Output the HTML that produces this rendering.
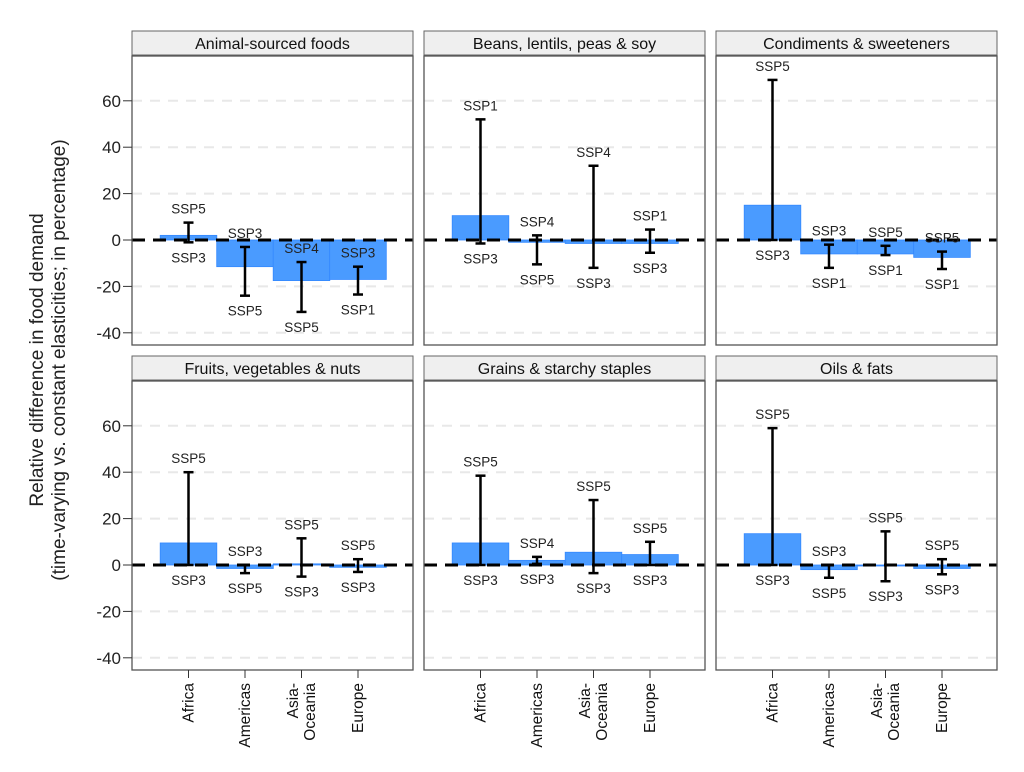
<!DOCTYPE html>
<html><head><meta charset="utf-8"><style>
body{margin:0;background:#fff;}
svg{display:block;font-family:"Liberation Sans",Arial,sans-serif;}
</style></head><body>
<svg id="s" width="1024" height="772" xmlns="http://www.w3.org/2000/svg"></svg>
<script>
const S=document.getElementById('s');let h='';
const cols=[132,424,716],W=281;
const rows=[{st:31,pt:56,pb:345,z:240},{st:356,pt:381,pb:670,z:565}];
const k=2.32;
const panels=[
["Animal-sourced foods",[[2,7.5,-1,"SSP5","SSP3"],[-11.5,-3,-24,"SSP3","SSP5"],[-17.5,-9.5,-31,"SSP4","SSP5"],[-17,-11.5,-23.5,"SSP3","SSP1"]]],
["Beans, lentils, peas & soy",[[10.5,52,-1.5,"SSP1","SSP3"],[-1,2,-10.5,"SSP4","SSP5"],[-1.5,32,-12,"SSP4","SSP3"],[-1.5,4.5,-5.5,"SSP1","SSP3"]]],
["Condiments & sweeteners",[[15,69,0,"SSP5","SSP3"],[-6,-2,-12,"SSP3","SSP1"],[-6,-2.5,-6.5,"SSP5","SSP1"],[-7.5,-5,-12.5,"SSP5","SSP1"]]],
["Fruits, vegetables & nuts",[[9.5,40,0,"SSP5","SSP3"],[-1.5,0,-3.5,"SSP3","SSP5"],[0.5,11.5,-5,"SSP5","SSP3"],[-1,2.5,-3,"SSP5","SSP3"]]],
["Grains & starchy staples",[[9.5,38.5,0,"SSP5","SSP3"],[2,3.5,0.5,"SSP4","SSP3"],[5.5,28,-3.5,"SSP5","SSP3"],[4.5,10,0,"SSP5","SSP3"]]],
["Oils & fats",[[13.5,59,0,"SSP5","SSP3"],[-2,0,-5.5,"SSP3","SSP5"],[0,14.5,-7,"SSP5","SSP3"],[-1.5,2.5,-4,"SSP5","SSP3"]]]];
const cats=[["Africa"],["Americas"],["Asia-","Oceania"],["Europe"]];
panels.forEach((p,i)=>{
 const r=rows[Math.floor(i/3)],x0=cols[i%3];const Y=v=>r.z-k*v;
 h+=`<rect x="${x0}" y="${r.st}" width="${W}" height="24" fill="#efefef" stroke="#666" stroke-width="1"/>`;
 h+=`<text x="${x0+W/2}" y="${r.st+18}" font-size="16" text-anchor="middle" fill="#111">${p[0].replace('&','&amp;')}</text>`;
 h+=`<rect x="${x0}" y="${r.pt}" width="${W}" height="${r.pb-r.pt}" fill="#fff"/>`;
 [60,40,20,-20,-40].forEach(v=>h+=`<line x1="${x0}" x2="${x0+W}" y1="${Y(v)}" y2="${Y(v)}" stroke="#e8e8e8" stroke-width="2" stroke-dasharray="10,8"/>`);
 p[1].forEach((d,j)=>{const cx=x0+56.5*(j+1);
  const a=Y(Math.max(d[0],0)),b=Y(Math.min(d[0],0));
  h+=`<rect x="${cx-28.3}" y="${a}" width="56.6" height="${Math.max(b-a,1)}" fill="#4a9bff" stroke="#3388ff" stroke-width="0.8"/>`;});
 h+=`<line x1="${x0}" x2="${x0+W}" y1="${r.z}" y2="${r.z}" stroke="#000" stroke-width="3" stroke-dasharray="13,8"/>`;
 p[1].forEach((d,j)=>{const cx=x0+56.5*(j+1);const t=Y(d[1]),b=Y(d[2]);
  h+=`<g stroke="#000" stroke-width="2.5"><line x1="${cx}" x2="${cx}" y1="${t}" y2="${b}"/><line x1="${cx-5}" x2="${cx+5}" y1="${t}" y2="${t}"/><line x1="${cx-5}" x2="${cx+5}" y1="${b}" y2="${b}"/></g>`;
  h+=`<text x="${cx}" y="${t-9}" font-size="13.5" text-anchor="middle" fill="#222">${d[3]}</text>`;
  h+=`<text x="${cx}" y="${b+20}" font-size="13.5" text-anchor="middle" fill="#222">${d[4]}</text>`;});
 h+=`<rect x="${x0}" y="${r.pt}" width="${W}" height="${r.pb-r.pt}" fill="none" stroke="#555" stroke-width="1.3"/>`;
 if(i%3==0){[60,40,20,0,-20,-40].forEach(v=>{h+=`<line x1="${x0-9}" x2="${x0}" y1="${Y(v)}" y2="${Y(v)}" stroke="#333" stroke-width="1"/><text x="${x0-11}" y="${Y(v)+6}" font-size="17" text-anchor="end" fill="#222">${v}</text>`;});}
 if(i>=3){cats.forEach((c,j)=>{const cx=x0+56.5*(j+1);
  h+=`<line x1="${cx}" x2="${cx}" y1="${r.pb}" y2="${r.pb+8}" stroke="#333"/>`;
  const n=c.length;c.forEach((l,q)=>{const xx=cx+5+(q-(n-1)/2)*17;
   h+=`<text transform="translate(${xx},${r.pb+13}) rotate(-90)" font-size="15.5" text-anchor="end" fill="#111">${l}</text>`;});});}
});
h+=`<text transform="translate(43,360) rotate(-90)" font-size="19" text-anchor="middle" fill="#222">Relative difference in food demand</text>`;
h+=`<text transform="translate(65,360) rotate(-90)" font-size="19" text-anchor="middle" fill="#222">(time-varying vs. constant elasticities; in percentage)</text>`;
S.innerHTML=h;
</script>
</body></html>
